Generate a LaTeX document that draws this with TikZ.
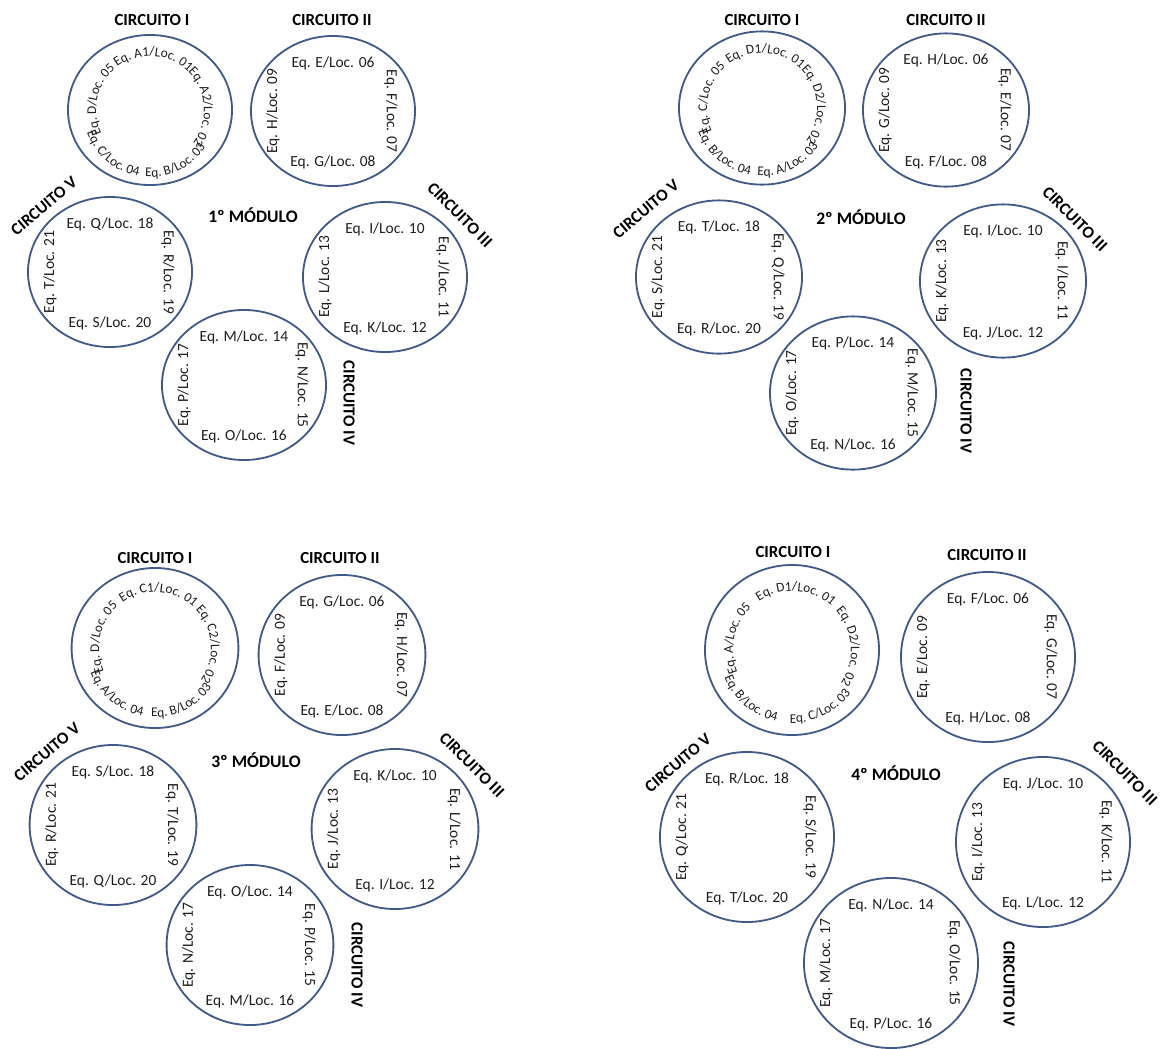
\documentclass[tikz,border=0pt]{standalone}
\usepackage{fontspec}
\setmainfont{Carlito}
\usetikzlibrary{shapes.geometric,calc,decorations.text}

\definecolor{rim}{RGB}{64,90,138}
\definecolor{eqtext}{RGB}{30,30,30}
\newcommand{\eqarcfont}{\color{eqtext}\fontsize{9.5}{11}\selectfont}

\begin{document}
\begin{tikzpicture}[
    x=0.025cm, y=0.025cm,
    circ/.style={draw=rim, line width=1.3pt, ellipse, inner sep=0pt},
    mone/.style={circ, minimum width=4.1cm, minimum height=3.75cm},
    mtwo/.style={circ, minimum width=4.15cm, minimum height=3.83cm},
    mthree/.style={circ, minimum width=4.17cm, minimum height=4cm},
    mfour/.style={circ, minimum width=4.35cm, minimum height=4.25cm},
    eq/.style={font=\fontsize{11}{13}\selectfont, text=eqtext, inner sep=0pt},
    eqR/.style={eq, rotate=-90},
    eqL/.style={eq, rotate=90},
    title/.style={font=\fontsize{12}{14}\selectfont\bfseries, inner sep=0pt},
    modtitle/.style={font=\fontsize{12.5}{14}\selectfont\bfseries, inner sep=0pt},
    ontext/.style={decorate, decoration={text along path, text align=center, text={|\eqarcfont|#1}}}
  ]
  \useasboundingbox (0,0) rectangle (1165,-1048);

  % 1º modulo
  \node[modtitle] (mod1) at (253,-215) {1º MÓDULO};
  \node[mone] (m1c1) at (150,-110) {};
  \node[mone] (m1c2) at (333,-111) {};
  \node[mone] (m1c3) at (385,-277) {};
  \node[mone] (m1c4) at (244,-385) {};
  \node[mone] (m1c5) at (110,-272) {};
  \node[title] (m1t1) at (152,-20) {CIRCUITO I};
  \node[title] (m1t2) at (332,-20) {CIRCUITO II};
  \node[title, rotate=-45] (m1t3) at (460,-215) {CIRCUITO III};
  \node[title, rotate=-90] (m1t4) at (349,-403) {CIRCUITO IV};
  \node[title, rotate=40] (m1t5) at (44,-206) {CIRCUITO V};

  \path[ontext={Eq. A1/Loc. 01}] ($(m1c1)+(136:54)$) arc[start angle=136, end angle=36, radius=54];
  \path[ontext={Eq. A2/Loc. 02}] ($(m1c1)+(54:54)$) arc[start angle=54, end angle=-46, radius=54];
  \path[ontext={Eq. B/Loc. 03}] ($(m1c1)+(-114:67)$) arc[start angle=-114, end angle=-14, radius=67];
  \path[ontext={Eq. C/Loc. 04}] ($(m1c1)+(-180:67)$) arc[start angle=-180, end angle=-80, radius=67];
  \path[ontext={Eq. D/Loc. 05}] ($(m1c1)+(218:54)$) arc[start angle=218, end angle=118, radius=54];

  \node[eq] (m1e06) at ($(m1c2.north)+(0,-28)$) {Eq. E/Loc. 06};
  \node[eqR] (m1e07) at ($(m1c2.east)+(-25,0)$) {Eq. F/Loc. 07};
  \node[eq] (m1e08) at ($(m1c2.south)+(0,25)$) {Eq. G/Loc. 08};
  \node[eqL] (m1e09) at ($(m1c2.west)+(23,0)$) {Eq. H/Loc. 09};

  \node[eq] (m1e10) at ($(m1c3.north)+(0,-28)$) {Eq. I/Loc. 10};
  \node[eqR] (m1e11) at ($(m1c3.east)+(-25,0)$) {Eq. J/Loc. 11};
  \node[eq] (m1e12) at ($(m1c3.south)+(0,25)$) {Eq. K/Loc. 12};
  \node[eqL] (m1e13) at ($(m1c3.west)+(23,0)$) {Eq. L/Loc. 13};

  \node[eq] (m1e14) at ($(m1c4.north)+(0,-28)$) {Eq. M/Loc. 14};
  \node[eqR] (m1e15) at ($(m1c4.east)+(-25,0)$) {Eq. N/Loc. 15};
  \node[eq] (m1e16) at ($(m1c4.south)+(0,25)$) {Eq. O/Loc. 16};
  \node[eqL] (m1e17) at ($(m1c4.west)+(23,0)$) {Eq. P/Loc. 17};

  \node[eq] (m1e18) at ($(m1c5.north)+(0,-28)$) {Eq. Q/Loc. 18};
  \node[eqR] (m1e19) at ($(m1c5.east)+(-25,0)$) {Eq. R/Loc. 19};
  \node[eq] (m1e20) at ($(m1c5.south)+(0,25)$) {Eq. S/Loc. 20};
  \node[eqL] (m1e21) at ($(m1c5.west)+(23,0)$) {Eq. T/Loc. 21};

  % 2º modulo
  \node[modtitle] (mod2) at (861,-217) {2º MÓDULO};
  \node[mtwo] (m2c1) at (762,-108) {};
  \node[mtwo] (m2c2) at (946,-110) {};
  \node[mtwo] (m2c3) at (1003,-281) {};
  \node[mtwo] (m2c4) at (853,-393) {};
  \node[mtwo] (m2c5) at (719,-277) {};
  \node[title] (m2t1) at (762,-20) {CIRCUITO I};
  \node[title] (m2t2) at (946,-20) {CIRCUITO II};
  \node[title, rotate=-45] (m2t3) at (1075,-219) {CIRCUITO III};
  \node[title, rotate=-90] (m2t4) at (966,-411) {CIRCUITO IV};
  \node[title, rotate=40] (m2t5) at (646,-209) {CIRCUITO V};

  \path[ontext={Eq. D1/Loc. 01}] ($(m2c1)+(136:55)$) arc[start angle=136, end angle=36, radius=55];
  \path[ontext={Eq. D2/Loc. 02}] ($(m2c1)+(54:55)$) arc[start angle=54, end angle=-46, radius=55];
  \path[ontext={Eq. A/Loc. 03}] ($(m2c1)+(-114:68)$) arc[start angle=-114, end angle=-14, radius=68];
  \path[ontext={Eq. B/Loc. 04}] ($(m2c1)+(-180:68)$) arc[start angle=-180, end angle=-80, radius=68];
  \path[ontext={Eq. C/Loc. 05}] ($(m2c1)+(218:55)$) arc[start angle=218, end angle=118, radius=55];

  \node[eq] (m2e06) at ($(m2c2.north)+(0,-28)$) {Eq. H/Loc. 06};
  \node[eqR] (m2e07) at ($(m2c2.east)+(-25,0)$) {Eq. E/Loc. 07};
  \node[eq] (m2e08) at ($(m2c2.south)+(0,25)$) {Eq. F/Loc. 08};
  \node[eqL] (m2e09) at ($(m2c2.west)+(23,0)$) {Eq. G/Loc. 09};

  \node[eq] (m2e10) at ($(m2c3.north)+(0,-28)$) {Eq. I/Loc. 10};
  \node[eqR] (m2e11) at ($(m2c3.east)+(-25,0)$) {Eq. I/Loc. 11};
  \node[eq] (m2e12) at ($(m2c3.south)+(0,25)$) {Eq. J/Loc. 12};
  \node[eqL] (m2e13) at ($(m2c3.west)+(23,0)$) {Eq. K/Loc. 13};

  \node[eq] (m2e14) at ($(m2c4.north)+(0,-28)$) {Eq. P/Loc. 14};
  \node[eqR] (m2e15) at ($(m2c4.east)+(-25,0)$) {Eq. M/Loc. 15};
  \node[eq] (m2e16) at ($(m2c4.south)+(0,25)$) {Eq. N/Loc. 16};
  \node[eqL] (m2e17) at ($(m2c4.west)+(23,0)$) {Eq. O/Loc. 17};

  \node[eq] (m2e18) at ($(m2c5.north)+(0,-28)$) {Eq. T/Loc. 18};
  \node[eqR] (m2e19) at ($(m2c5.east)+(-25,0)$) {Eq. Q/Loc. 19};
  \node[eq] (m2e20) at ($(m2c5.south)+(0,25)$) {Eq. R/Loc. 20};
  \node[eqL] (m2e21) at ($(m2c5.west)+(23,0)$) {Eq. S/Loc. 21};

  % 3º modulo
  \node[modtitle] (mod3) at (256,-760) {3º MÓDULO};
  \node[mthree] (m3c1) at (155,-648) {};
  \node[mthree] (m3c2) at (342,-655) {};
  \node[mthree] (m3c3) at (395,-829) {};
  \node[mthree] (m3c4) at (250,-945) {};
  \node[mthree] (m3c5) at (113,-825) {};
  \node[title] (m3t1) at (155,-558) {CIRCUITO I};
  \node[title] (m3t2) at (340,-558) {CIRCUITO II};
  \node[title, rotate=-45] (m3t3) at (472,-765) {CIRCUITO III};
  \node[title, rotate=-90] (m3t4) at (357,-965) {CIRCUITO IV};
  \node[title, rotate=40] (m3t5) at (47,-752) {CIRCUITO V};

  \path[ontext={Eq. C1/Loc. 01}] ($(m3c1)+(136:56)$) arc[start angle=136, end angle=36, radius=56];
  \path[ontext={Eq. C2/Loc. 02}] ($(m3c1)+(54:56)$) arc[start angle=54, end angle=-46, radius=56];
  \path[ontext={Eq. B/Loc. 03}] ($(m3c1)+(-114:69)$) arc[start angle=-114, end angle=-14, radius=69];
  \path[ontext={Eq. A/Loc. 04}] ($(m3c1)+(-180:69)$) arc[start angle=-180, end angle=-80, radius=69];
  \path[ontext={Eq. D/Loc. 05}] ($(m3c1)+(218:56)$) arc[start angle=218, end angle=118, radius=56];

  \node[eq] (m3e06) at ($(m3c2.north)+(0,-28)$) {Eq. G/Loc. 06};
  \node[eqR] (m3e07) at ($(m3c2.east)+(-25,0)$) {Eq. H/Loc. 07};
  \node[eq] (m3e08) at ($(m3c2.south)+(0,25)$) {Eq. E/Loc. 08};
  \node[eqL] (m3e09) at ($(m3c2.west)+(23,0)$) {Eq. F/Loc. 09};

  \node[eq] (m3e10) at ($(m3c3.north)+(0,-28)$) {Eq. K/Loc. 10};
  \node[eqR] (m3e11) at ($(m3c3.east)+(-25,0)$) {Eq. L/Loc. 11};
  \node[eq] (m3e12) at ($(m3c3.south)+(0,25)$) {Eq. I/Loc. 12};
  \node[eqL] (m3e13) at ($(m3c3.west)+(23,0)$) {Eq. J/Loc. 13};

  \node[eq] (m3e14) at ($(m3c4.north)+(0,-28)$) {Eq. O/Loc. 14};
  \node[eqR] (m3e15) at ($(m3c4.east)+(-25,0)$) {Eq. P/Loc. 15};
  \node[eq] (m3e16) at ($(m3c4.south)+(0,25)$) {Eq. M/Loc. 16};
  \node[eqL] (m3e17) at ($(m3c4.west)+(23,0)$) {Eq. N/Loc. 17};

  \node[eq] (m3e18) at ($(m3c5.north)+(0,-28)$) {Eq. S/Loc. 18};
  \node[eqR] (m3e19) at ($(m3c5.east)+(-25,0)$) {Eq. T/Loc. 19};
  \node[eq] (m3e20) at ($(m3c5.south)+(0,25)$) {Eq. Q/Loc. 20};
  \node[eqL] (m3e21) at ($(m3c5.west)+(23,0)$) {Eq. R/Loc. 21};

  % 4º modulo
  \node[modtitle] (mod4) at (896,-773) {4º MÓDULO};
  \node[mfour] (m4c1) at (792,-650) {};
  \node[mfour] (m4c2) at (988,-657) {};
  \node[mfour] (m4c3) at (1043,-842) {};
  \node[mfour] (m4c4) at (891,-963) {};
  \node[mfour] (m4c5) at (747,-837) {};
  \node[title] (m4t1) at (793,-552) {CIRCUITO I};
  \node[title] (m4t2) at (987,-555) {CIRCUITO II};
  \node[title, rotate=-45] (m4t3) at (1125,-773) {CIRCUITO III};
  \node[title, rotate=-90] (m4t4) at (1009,-984) {CIRCUITO IV};
  \node[title, rotate=40] (m4t5) at (678,-763) {CIRCUITO V};

  \path[ontext={Eq. D1/Loc. 01}] ($(m4c1)+(136:59)$) arc[start angle=136, end angle=36, radius=59];
  \path[ontext={Eq. D2/Loc. 02}] ($(m4c1)+(54:59)$) arc[start angle=54, end angle=-46, radius=59];
  \path[ontext={Eq. C/Loc. 03}] ($(m4c1)+(-114:73)$) arc[start angle=-114, end angle=-14, radius=73];
  \path[ontext={Eq. B/Loc. 04}] ($(m4c1)+(-180:73)$) arc[start angle=-180, end angle=-80, radius=73];
  \path[ontext={Eq. A/Loc. 05}] ($(m4c1)+(218:59)$) arc[start angle=218, end angle=118, radius=59];

  \node[eq] (m4e06) at ($(m4c2.north)+(0,-28)$) {Eq. F/Loc. 06};
  \node[eqR] (m4e07) at ($(m4c2.east)+(-25,0)$) {Eq. G/Loc. 07};
  \node[eq] (m4e08) at ($(m4c2.south)+(0,25)$) {Eq. H/Loc. 08};
  \node[eqL] (m4e09) at ($(m4c2.west)+(23,0)$) {Eq. E/Loc. 09};

  \node[eq] (m4e10) at ($(m4c3.north)+(0,-28)$) {Eq. J/Loc. 10};
  \node[eqR] (m4e11) at ($(m4c3.east)+(-25,0)$) {Eq. K/Loc. 11};
  \node[eq] (m4e12) at ($(m4c3.south)+(0,25)$) {Eq. L/Loc. 12};
  \node[eqL] (m4e13) at ($(m4c3.west)+(23,0)$) {Eq. I/Loc. 13};

  \node[eq] (m4e14) at ($(m4c4.north)+(0,-28)$) {Eq. N/Loc. 14};
  \node[eqR] (m4e15) at ($(m4c4.east)+(-25,0)$) {Eq. O/Loc. 15};
  \node[eq] (m4e16) at ($(m4c4.south)+(0,25)$) {Eq. P/Loc. 16};
  \node[eqL] (m4e17) at ($(m4c4.west)+(23,0)$) {Eq. M/Loc. 17};

  \node[eq] (m4e18) at ($(m4c5.north)+(0,-28)$) {Eq. R/Loc. 18};
  \node[eqR] (m4e19) at ($(m4c5.east)+(-25,0)$) {Eq. S/Loc. 19};
  \node[eq] (m4e20) at ($(m4c5.south)+(0,25)$) {Eq. T/Loc. 20};
  \node[eqL] (m4e21) at ($(m4c5.west)+(23,0)$) {Eq. Q/Loc. 21};

\end{tikzpicture}
\end{document}
